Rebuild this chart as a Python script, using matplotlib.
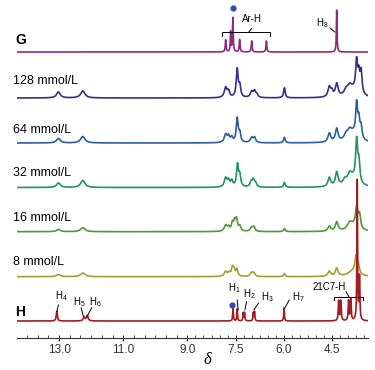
import numpy as np
import matplotlib
matplotlib.use("Agg")
import matplotlib.pyplot as plt
from matplotlib.ticker import FixedLocator

plt.rcParams['font.family'] = ['Liberation Sans', 'DejaVu Sans']
plt.rcParams['mathtext.fontset'] = 'custom'
plt.rcParams['mathtext.rm'] = 'Liberation Sans'
plt.rcParams['mathtext.it'] = 'Liberation Sans'

# spectra: peak position (ppm), peak height, half width (ppm)
names = ["G", "128 mmol/L", "64 mmol/L", "32 mmol/L", "16 mmol/L", "8 mmol/L", "H"]
offsets = [286, 240, 195, 150.5, 106.3, 61.3, 17]
colors = ["#8E2A86", "#3B2C8C", "#2C5E9C", "#1F9466", "#4A9A35", "#A89C2E", "#A11D22"]

peaks_G = [(7.81, 12, 0.015), (7.655, 20, 0.013), (7.585, 34, 0.013), (7.375, 12.5, 0.015),
           (7.0, 11, 0.015), (6.54, 11, 0.015), (4.35, 42, 0.012)]
peaks_128 = [(13.02, 6, 0.07), (12.26, 7, 0.08),
             (7.81, 10, 0.05), (7.72, 6, 0.04), (7.45, 28, 0.035), (7.37, 11, 0.035),
             (7.0, 6, 0.05), (6.91, 6, 0.04), (6.84, 3, 0.04), (5.98, 10, 0.03),
             (4.58, 10, 0.05), (4.50, 5, 0.04), (4.35, 13, 0.05), (4.06, 5, 0.07),
             (3.95, 6, 0.07), (3.73, 30, 0.035), (3.66, 18, 0.035), (3.59, 22, 0.035),
             (3.85, 8, 0.18)]
peaks_64 = [(13.02, 4.5, 0.07), (12.26, 6.5, 0.08),
            (7.81, 8, 0.05), (7.72, 6, 0.04), (7.62, 5, 0.04), (7.45, 24, 0.035), (7.37, 9, 0.035),
            (7.0, 5, 0.05), (6.91, 5, 0.04), (5.98, 5.5, 0.03),
            (4.58, 9, 0.05), (4.35, 13, 0.05), (4.06, 5, 0.07), (3.95, 6, 0.07),
            (3.73, 32, 0.035), (3.66, 17, 0.035), (3.59, 12, 0.035), (3.85, 9, 0.18)]
peaks_32 = [(13.02, 4.5, 0.07), (12.26, 7, 0.08),
            (7.81, 9, 0.05), (7.72, 6, 0.04), (7.62, 6, 0.04), (7.44, 22, 0.035), (7.37, 11, 0.035),
            (7.02, 5, 0.04), (6.95, 7, 0.04), (6.88, 4, 0.04), (5.98, 5, 0.03),
            (4.58, 9, 0.05), (4.35, 14, 0.05), (4.1, 5, 0.07), (3.95, 7, 0.07),
            (3.73, 40, 0.035), (3.66, 20, 0.035), (3.85, 9, 0.18)]
peaks_16 = [(13.02, 2.2, 0.07), (12.26, 4, 0.08),
            (7.81, 6, 0.05), (7.72, 4, 0.04), (7.60, 8, 0.035), (7.53, 9, 0.035), (7.47, 11, 0.035),
            (7.37, 5, 0.04), (7.0, 4, 0.05), (6.93, 4, 0.04), (5.98, 3, 0.03),
            (4.58, 5, 0.05), (4.35, 9, 0.05), (3.95, 5, 0.07),
            (3.73, 20, 0.04), (3.64, 14, 0.04), (3.85, 6, 0.18)]
peaks_8 = [(13.02, 2.2, 0.07), (12.26, 3.8, 0.08),
           (7.81, 5, 0.05), (7.70, 3.5, 0.04), (7.60, 8, 0.035), (7.55, 6, 0.035), (7.46, 7, 0.035),
           (7.0, 4, 0.05), (6.93, 3, 0.04), (5.98, 3, 0.03),
           (4.58, 5, 0.05), (4.35, 8, 0.05),
           (3.75, 16, 0.04), (3.68, 9, 0.04), (3.85, 5, 0.18)]
peaks_H = [(13.07, 10, 0.02), (12.22, 4, 0.03), (12.12, 5.5, 0.03),
           (7.58, 14, 0.012), (7.45, 12, 0.012), (7.26, 8, 0.012), (7.22, 8, 0.012),
           (6.95, 8, 0.012), (6.91, 9, 0.012), (5.99, 13, 0.012),
           (4.29, 20, 0.015), (4.22, 20, 0.015), (3.98, 20, 0.015), (3.91, 21, 0.015),
           (3.71, 140, 0.012), (3.64, 43, 0.014)]
all_peaks = [peaks_G, peaks_128, peaks_64, peaks_32, peaks_16, peaks_8, peaks_H]

major_ticks = [13.0, 11.0, 9.0, 7.5, 6.0, 4.5]
xmin, xmax = 14.31, 3.375


def spectrum(ppm, peaks):
    y = np.zeros_like(ppm)
    for c, h, w in peaks:
        y += h * w**2 / ((ppm - c)**2 + w**2)
    return y


fig = plt.figure(figsize=(3.75, 3.7), dpi=100)
ax = fig.add_axes([17 / 375, 32 / 370, 351 / 375, 338 / 370])
ax.set_xlim(xmin, xmax)
ax.set_ylim(0, 338)

ppm = np.linspace(xmin, xmax, 6000)
for name, off, col, pk in zip(names, offsets, colors, all_peaks):
    ax.plot(ppm, off + spectrum(ppm, pk), color=col, lw=1.2)

# row labels
label_y = [298, 257, 208, 165, 120, 76, 26]
for name, ly in zip(names, label_y):
    bold = name in ("G", "H")
    ax.text(14.37 if bold else 14.42, ly, name, fontsize=10 if bold else 9,
            fontweight='bold' if bold else 'normal', ha='left', va='center', clip_on=False)

small = 7
# G annotations
ax.plot([7.59], [330], 'o', color='#2D4DB0', ms=3.5)
ax.plot([7.91, 7.91, 6.44, 6.44], [302.5, 306, 306, 302.5], color='k', lw=0.7)
ax.plot([7.09, 7.0], [306, 309.5], color='k', lw=0.7)
ax.text(7.0, 319, "Ar-H", fontsize=small, ha='center', va='center')
ax.text(4.81, 315, r"H$_8$", fontsize=small, ha='center', va='center')
ax.plot([4.56, 4.41], [310, 306], color='k', lw=0.7)

# H annotations
ax.plot([7.60], [33], 'o', color='#2D4DB0', ms=3.5)
hlabels = [(12.94, 42, r"H$_4$", 13.02, 33, 13.07, 26.3),
           (12.36, 36.3, r"H$_5$", 12.31, 30, 12.24, 21.3),
           (11.86, 36.3, r"H$_6$", 11.98, 30.3, 12.12, 22),
           (7.53, 50, r"H$_1$", 7.45, 38, 7.42, 28),
           (7.08, 44, r"H$_2$", 7.16, 36.3, 7.21, 28),
           (6.52, 40.7, r"H$_3$", 6.79, 34.7, 6.93, 28),
           (5.56, 40.7, r"H$_7$", 5.83, 38, 5.97, 29.7)]
for tx, ty, s, x1, y1, x2, y2 in hlabels:
    ax.text(tx, ty, s, fontsize=small, ha='center', va='center')
    ax.plot([x1, x2], [y1, y2], color='k', lw=0.7)
ax.text(4.59, 51.3, "21C7-H", fontsize=small, ha='center', va='center')
ax.plot([4.43, 4.43, 3.54, 3.54], [38, 41.3, 41.3, 38], color='k', lw=0.7)
ax.plot([4.06, 3.97], [46.3, 41.3], color='k', lw=0.7)

# axis
for s in ['top', 'right', 'left']:
    ax.spines[s].set_visible(False)
ax.spines['bottom'].set_linewidth(0.8)
ax.spines['bottom'].set_color('#333333')
ax.set_yticks([])
ax.set_xticks(major_ticks)
ax.set_xticklabels([f"{t:.1f}" for t in major_ticks], fontsize=8.5)
minor = []
for a, b in zip(major_ticks[:-1], major_ticks[1:]):
    minor += list(np.linspace(a, b, 7)[1:-1])
step0 = (major_ticks[0] - major_ticks[1]) / 6
minor += [major_ticks[0] + step0 * k for k in range(1, 5) if major_ticks[0] + step0 * k <= xmin]
step1 = (major_ticks[-2] - major_ticks[-1]) / 6
minor += [major_ticks[-1] - step1 * k for k in range(1, 5) if major_ticks[-1] - step1 * k >= xmax]
ax.xaxis.set_minor_locator(FixedLocator(minor))
ax.tick_params(axis='x', which='major', direction='inout', length=5, width=0.8, pad=2, colors='#333333')
ax.tick_params(axis='x', which='minor', direction='in', length=2.5, width=0.6, colors='#333333')
ax.set_xlabel("δ", fontsize=12, family='Liberation Serif', style='italic')
ax.xaxis.set_label_coords(0.541, -0.04)

fig.savefig("out.png", dpi=100)
